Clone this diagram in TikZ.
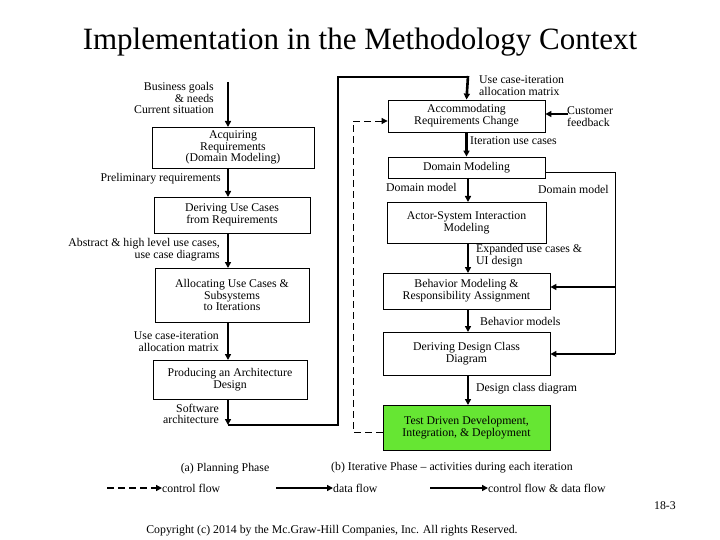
\documentclass[tikz,border=0pt]{standalone}
\usepackage{fontspec}
\setmainfont{Liberation Serif}
\usetikzlibrary{arrows.meta}
\begin{document}
\begin{tikzpicture}[x=1pt,y=-1pt,
  box/.style={draw,line width=0.8pt,align=center,inner sep=0pt,font=\fontsize{11.8}{11.8}\selectfont},
  lbl/.style={font=\fontsize{11.8}{11.8}\selectfont,inner sep=0pt},
  flow/.style={line width=1.8pt,-{Triangle[length=6pt,width=6pt]}},
  bflow/.style={line width=2.6pt,-{Triangle[length=6pt,width=6pt]}},
  dflow/.style={line width=0.8pt,dash pattern=on 7pt off 4pt,-{Triangle[length=6pt,width=6pt]}}]
\useasboundingbox (0,0) rectangle (720,540);
\node[font=\fontsize{31}{33}\selectfont] (title) at (360,42) {Implementation in the Methodology Context};
% left boxes
\node[box,minimum width=162pt,minimum height=41pt] (acq) at (233,147.5) {Acquiring\\Requirements\\(Domain Modeling)};
\node[box,minimum width=156pt,minimum height=36pt] (der) at (232,215) {Deriving Use Cases\\from Requirements};
\node[box,minimum width=154pt,minimum height=54pt] (all) at (232,295) {Allocating Use Cases \&\\Subsystems\\to Iterations};
\node[box,minimum width=154pt,minimum height=39pt] (pro) at (230,379.5) {Producing an Architecture\\Design};
\coordinate (top) at (228,82);
\coordinate (bot) at (228,425);
\draw[flow] (top) -- (228,127);
\draw[flow] (228,168) -- (228,197);
\draw[flow] (228,233) -- (228,268);
\draw[flow] (228,322) -- (228,360);
\draw[flow] (228,399) -- (bot);
\node[lbl,align=right,anchor=east] (l1) at (214,98) {Business goals\\\& needs\\Current situation};
\node[lbl,anchor=east] (l2) at (221,179) {Preliminary requirements};
\node[lbl,align=right,anchor=east] (l3) at (220,250) {Abstract \& high level use cases,\\use case diagrams};
\node[lbl,align=right,anchor=east] (l4) at (219,342) {Use case-iteration\\allocation matrix};
\node[lbl,align=right,anchor=east] (l5) at (219,414) {Software\\architecture};
% right boxes
\node[box,minimum width=157pt,minimum height=32pt] (acc) at (466.5,116) {Accommodating\\Requirements Change};
\node[box,minimum width=157pt,minimum height=21pt] (dom) at (466.5,167.5) {Domain Modeling};
\node[box,minimum width=159pt,minimum height=41pt] (act) at (466.5,222.5) {Actor-System Interaction\\Modeling};
\node[box,minimum width=167pt,minimum height=36pt] (beh) at (466.5,291) {Behavior Modeling \&\\Responsibility Assignment};
\node[box,minimum width=167pt,minimum height=43pt] (dcd) at (466.5,353.5) {Deriving Design Class\\Diagram};
\node[box,fill={rgb,255:red,102;green,230;blue,51},minimum width=167pt,minimum height=45pt] (tdd) at (466.5,427.5) {Test Driven Development,\\Integration, \& Deployment};
\draw[line width=2.6pt] (bot) -- (338,425) -- (338,77) -- (468,77);
\draw[bflow] (468,76) -- (acc.north);
\draw[bflow] (acc.south) -- (dom.north);
\draw[bflow] (468,178) -- (468,202);
\draw[bflow] (468,243) -- (468,273);
\draw[bflow] (468,309) -- (468,332);
\draw[bflow] (468,375) -- (468,405);
\coordinate (cf) at (568,114);
\draw[flow] (cf) -- (acc.east |- cf);
\node[lbl,align=left,anchor=west] (cfl) at (567,117) {Customer\\feedback};
\draw[line width=0.8pt] (dom.east |- 0,172) -- (615,172) -- (615,354);
\draw[flow] (615,287) -- (beh.east |- 0,287);
\draw[flow] (615,354) -- (dcd.east |- 0,354);
\draw[dflow] (tdd.west |- 0,432) -- (353,432) -- (353,121) -- (acc.west |- 0,121);
\node[lbl,align=left,anchor=west] (r1) at (479,86) {Use case-iteration\\allocation matrix};
\node[lbl,anchor=west] (r2) at (470,141) {Iteration use cases};
\node[lbl,anchor=west] (r3) at (386,187) {Domain model};
\node[lbl,anchor=west] (r4) at (538,189) {Domain model};
\node[lbl,align=left,anchor=west] (r5) at (476,256) {Expanded use cases \&\\UI design};
\node[lbl,anchor=west] (r6) at (480,321) {Behavior models};
\node[lbl,anchor=west] (r7) at (476,389) {Design class diagram};
% legend
\node[lbl] (pa) at (225,469) {(a) Planning Phase};
\node[lbl,anchor=west] (pb) at (331,468) {(b) Iterative Phase -- activities during each iteration};
\coordinate (d1) at (107,488);
\node[lbl,anchor=west] (cfn) at (162,488) {control flow};
\draw[dflow,line width=1.6pt] (d1) -- (cfn.west);
\coordinate (d2) at (276,488);
\node[lbl,anchor=west] (dfn) at (333,488) {data flow};
\draw[flow] (d2) -- (dfn.west);
\coordinate (d3) at (430,488);
\node[lbl,anchor=west] (cdn) at (488,488) {control flow \& data flow};
\draw[flow] (d3) -- (cdn.west);
\node[lbl] (pg) at (665,506) {18-3};
\node[lbl] (copy) at (332,531) {Copyright (c) 2014 by the Mc.Graw-Hill Companies, Inc. All rights Reserved.};
\end{tikzpicture}
\end{document}
